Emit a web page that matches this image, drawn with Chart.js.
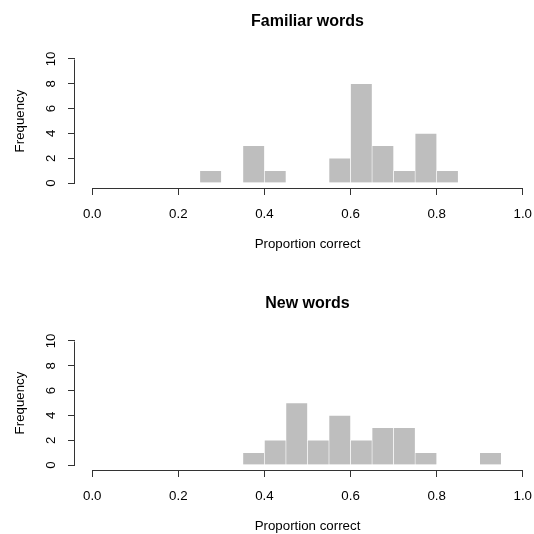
<!DOCTYPE html>
<html><head><meta charset="utf-8">
<script src="https://cdn.jsdelivr.net/npm/chart.js@4/dist/chart.umd.min.js"></script>
<style>
html,body{margin:0;padding:0;background:#fff;overflow:hidden;width:534px;height:534px}
.panel{position:absolute;left:0;width:540px;height:267px}
canvas{display:block}
</style></head><body>
<div class="panel" style="top:0"><canvas id="c1" width="540" height="267"></canvas></div>
<div class="panel" style="top:282px"><canvas id="c2" width="540" height="267"></canvas></div>
<script>
// Histogram bins (lower edges) and counts
const binLower = [0.25, 0.30, 0.35, 0.40, 0.45, 0.50, 0.55, 0.60, 0.65, 0.70, 0.75, 0.80, 0.85, 0.90];
const binWidth = 0.05;
const familiarCounts = [1, 0, 3, 1, 0, 0, 2, 8, 3, 1, 4, 1, 0, 0];
const newCounts      = [0, 0, 1, 2, 5, 2, 4, 2, 3, 3, 1, 0, 0, 1];
const xTickValues = [0, 0.2, 0.4, 0.6, 0.8, 1.0];
const yTickValues = [0, 2, 4, 6, 8, 10];
const panelTitles = ['Familiar words', 'New words'];
const xAxisTitle = 'Proportion correct';
const yAxisTitle = 'Frequency';

Chart.defaults.font.family = "'Liberation Sans', Arial, Helvetica, sans-serif";
Chart.defaults.color = '#000';

const AXIS_COLOR = '#333';

const axisLines = {
  id: 'axisLines',
  afterDraw(chart) {
    const {ctx, scales: {x, y}, chartArea: a} = chart;
    ctx.save();
    ctx.strokeStyle = AXIS_COLOR;
    ctx.lineWidth = 1;
    ctx.beginPath();
    const yb = Math.round(a.bottom) + 0.5;
    ctx.moveTo(x.getPixelForValue(xTickValues[0]), yb);
    ctx.lineTo(x.getPixelForValue(xTickValues[xTickValues.length - 1]), yb);
    const xl = Math.round(a.left) - 0.5;
    ctx.moveTo(xl, Math.round(y.getPixelForValue(yTickValues[0])) + 0.5);
    ctx.lineTo(xl, Math.round(y.getPixelForValue(yTickValues[yTickValues.length - 1])) + 0.5);
    ctx.stroke();
    ctx.restore();
  }
};

function makeChart(id, title, counts) {
  const data = binLower.map((lo, i) => ({x: lo + binWidth / 2, y: counts[i]}));
  return new Chart(document.getElementById(id), {
    type: 'bar',
    data: {
      datasets: [{
        data: data,
        backgroundColor: '#BEBEBE',
        borderColor: '#FFFFFF',
        borderWidth: 0.6,
        borderSkipped: 'start',
        barPercentage: 1,
        categoryPercentage: 1
      }]
    },
    options: {
      responsive: false,
      animation: false,
      events: [],
      layout: {padding: 0, autoPadding: false},
      plugins: {
        legend: {display: false},
        tooltip: {enabled: false},
        title: {
          display: true,
          text: title,
          fullSize: false,
          color: '#000',
          font: {size: 16, weight: 'bold'},
          padding: {top: 12.2, bottom: 22.6}
        }
      },
      scales: {
        x: {
          type: 'linear',
          min: -0.04,
          max: 1.04,
          offset: false,
          afterBuildTicks(s) { s.ticks = xTickValues.map(v => ({value: v})); },
          afterFit(s) { s.height = 79; s.paddingLeft = 0; s.paddingRight = 0; },
          ticks: {
            callback: v => Number(v).toFixed(1),
            font: {size: 13.3},
            color: '#000',
            padding: 11.5,
            maxRotation: 0,
            minRotation: 0,
            autoSkip: false
          },
          grid: {
            display: true,
            drawOnChartArea: false,
            drawTicks: true,
            tickLength: 7,
            offset: false,
            color: AXIS_COLOR,
            lineWidth: 1
          },
          border: {display: false},
          title: {
            display: true,
            text: xAxisTitle,
            font: {size: 13.3},
            color: '#000',
            padding: {top: 0, bottom: 15}
          }
        },
        y: {
          type: 'linear',
          min: -0.4,
          max: 10.4,
          afterBuildTicks(s) { s.ticks = yTickValues.map(v => ({value: v})); },
          afterFit(s) { s.width = 75; s.paddingTop = 0; s.paddingBottom = 0; },
          ticks: {
            font: {size: 13.3},
            color: '#000',
            padding: 8.9,
            minRotation: 90,
            maxRotation: 90,
            crossAlign: 'center',
            autoSkip: false
          },
          grid: {
            display: true,
            drawOnChartArea: false,
            drawTicks: true,
            tickLength: 7,
            color: AXIS_COLOR,
            lineWidth: 1
          },
          border: {display: false},
          title: {
            display: true,
            text: yAxisTitle,
            font: {size: 13.3},
            color: '#000',
            padding: {top: 12, bottom: 0}
          }
        }
      }
    },
    plugins: [axisLines]
  });
}

makeChart('c1', panelTitles[0], familiarCounts);
makeChart('c2', panelTitles[1], newCounts);
</script>
</body></html>
